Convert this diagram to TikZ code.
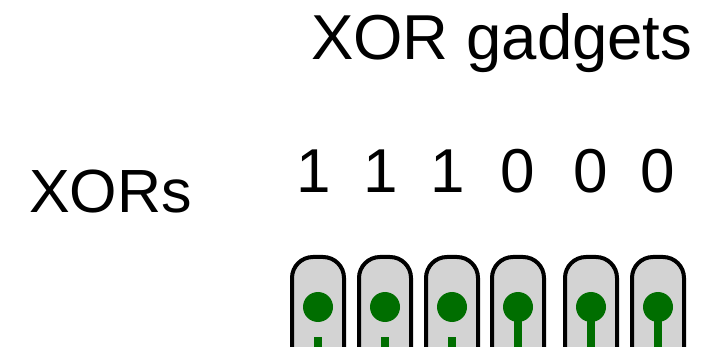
\documentclass[tikz,border=0pt]{standalone}
\usepackage{fontspec}
\setmainfont{Liberation Sans}
\definecolor{gfill}{HTML}{D3D3D3}
\definecolor{ggreen}{HTML}{006E00}
\begin{document}
\begin{tikzpicture}[x=1pt,y=-1pt,
  lbl/.style={inner sep=0pt, font=\fontsize{62}{70}\selectfont},
  gadget/.style={draw=black, line width=4pt, fill=gfill, rounded corners=21pt},
  gdot/.style={fill=ggreen},
  gwire/.style={fill=ggreen}]
\useasboundingbox (0,0) rectangle (712,347);
\clip (0,0) rectangle (712,347);
\node[lbl, anchor=base west, font=\fontsize{63.5}{70}\selectfont] (title) at (311,60) {XOR gadgets};
\node[lbl, anchor=base west, font=\fontsize{61}{70}\selectfont] (xors) at (29,213) {XORs};
\foreach \i/\x/\b/\dx in {1/318/1/-4,2/385/1/-4,3/452/1/-4,4/518/0/0,5/591/0/0,6/658/0/0} {
  \node[lbl, anchor=base] (d\i) at (\x+\dx,193) {\b};
}
\foreach \x/\sy in {318/337,385/337,452/337,518/307,591/307,658/307} {
  \draw[gadget] (\x-26,380) -- (\x-26,257) -- (\x+26,257) -- (\x+26,380);
  \fill[gwire] (\x-4,\sy) rectangle (\x+4,380);
  \fill[gdot] (\x,307) circle (15);
}
\end{tikzpicture}
\end{document}
